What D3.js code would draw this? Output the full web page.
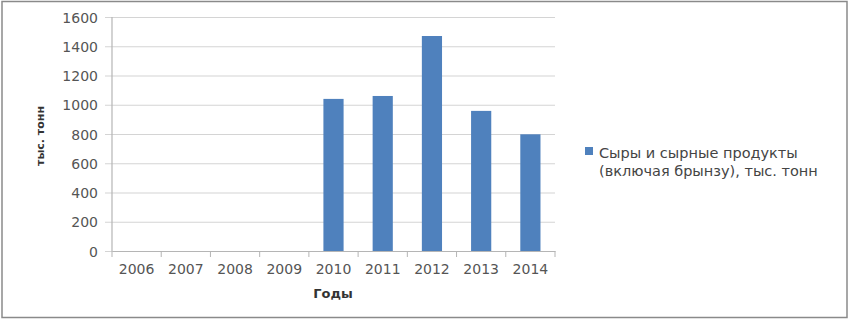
<!DOCTYPE html>
<html lang="ru">
<head>
<meta charset="UTF-8" />
<title>Сыры и сырные продукты</title>
<script src="https://d3js.org/d3.v7.min.js"></script>
<style>
  body { margin: 0; background: #fff; }
  svg { display: block; }
  .grid line { stroke: #d4d4d4; stroke-width: 1.2; }
  .tick text { font-family: "DejaVu Sans", sans-serif; font-size: 14px; fill: #555; }
</style>
</head>
<body>
<svg id="chart" width="853" height="321"></svg>
<script>
  // chart data
  const years = ["2006", "2007", "2008", "2009", "2010", "2011", "2012", "2013", "2014"];
  const cheese = [0, 0, 0, 0, 1040, 1060, 1470, 958, 798];
  const yTicks = [0, 200, 400, 600, 800, 1000, 1200, 1400, 1600];
  const seriesName = ["Сыры и сырные продукты", "(включая брынзу), тыс. тонн"];

  const svg = d3.select("#chart");
  const plotLeft = 112, plotRight = 555, plotTop = 17, plotBottom = 251;

  // frame around the chart
  svg.append("rect")
    .attr("x", 2).attr("y", 1.5)
    .attr("width", 845).attr("height", 316)
    .attr("fill", "#fff")
    .attr("stroke", "#8a8a8a")
    .attr("stroke-width", 1.5);

  const x = d3.scaleBand().domain(years).range([plotLeft, plotRight]).paddingInner(0.59).paddingOuter(0.295);
  const xCat = d3.scaleBand().domain(years).range([plotLeft, plotRight]);
  const y = d3.scaleLinear().domain([0, 1600]).range([plotBottom, plotTop]);

  // horizontal gridlines + y labels
  const gy = svg.append("g").attr("class", "grid")
    .attr("transform", `translate(${plotLeft},0)`)
    .call(d3.axisLeft(y).tickValues(yTicks).tickFormat(d3.format("d"))
      .tickSize(-(plotRight - plotLeft)).tickSizeOuter(0).tickPadding(14));
  gy.select(".domain").remove();
  gy.selectAll(".tick line").attr("x1", -7);
  gy.selectAll(".tick text").attr("dy", "0.36em");

  // bars
  svg.selectAll(".bar")
    .data(cheese)
    .enter()
    .append("rect")
    .attr("class", "bar")
    .attr("x", (d, i) => x(years[i]))
    .attr("width", x.bandwidth())
    .attr("y", d => y(d))
    .attr("height", d => y(0) - y(d))
    .attr("fill", "#4f81bd");

  // y axis line
  svg.append("line")
    .attr("x1", plotLeft).attr("x2", plotLeft)
    .attr("y1", plotTop).attr("y2", plotBottom)
    .attr("stroke", "#b5b5b5").attr("stroke-width", 1.2);

  // x axis with ticks on category boundaries
  const gx = svg.append("g")
    .attr("transform", `translate(0,${plotBottom})`)
    .call(d3.axisBottom(xCat).tickSize(0).tickPadding(13));
  gx.select(".domain").attr("stroke", "#b5b5b5").attr("stroke-width", 1.2);
  svg.append("g")
    .selectAll("line")
    .data(years.concat(["end"]))
    .enter()
    .append("line")
    .attr("x1", (d, i) => plotLeft + i * xCat.step())
    .attr("x2", (d, i) => plotLeft + i * xCat.step())
    .attr("y1", plotBottom).attr("y2", plotBottom + 6)
    .attr("stroke", "#b5b5b5");

  // axis titles
  svg.append("text")
    .attr("transform", "translate(44,136) rotate(-90)")
    .attr("text-anchor", "middle")
    .style("font-family", "DejaVu Sans, sans-serif")
    .style("font-size", "11px")
    .style("font-weight", "bold")
    .attr("fill", "#333")
    .text("тыс. тонн");

  svg.append("text")
    .attr("x", 333).attr("y", 298)
    .attr("text-anchor", "middle")
    .style("font-family", "DejaVu Sans, sans-serif")
    .style("font-size", "13px")
    .style("font-weight", "bold")
    .attr("fill", "#333")
    .text("Годы");

  // legend
  svg.append("rect")
    .attr("x", 585).attr("y", 147)
    .attr("width", 8).attr("height", 8)
    .attr("fill", "#4f81bd");
  svg.append("text")
    .attr("x", 599).attr("y", 158)
    .style("font-family", "DejaVu Sans, sans-serif")
    .style("font-size", "14.5px")
    .attr("fill", "#444")
    .selectAll("tspan")
    .data(seriesName)
    .enter()
    .append("tspan")
    .attr("x", 599)
    .attr("dy", (d, i) => i === 0 ? 0 : 18)
    .text(d => d);
</script>
</body>
</html>
